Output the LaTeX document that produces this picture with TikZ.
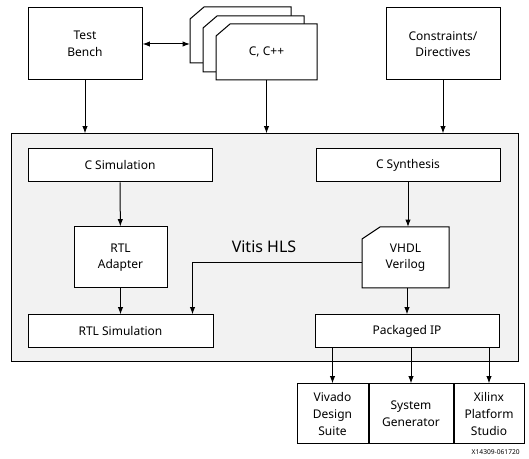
\documentclass[tikz,border=0pt]{standalone}
\usepackage{fontspec}
\setmainfont{Noto Sans}
\usepackage{xcolor}
\usepackage{tikz}
\usetikzlibrary{arrows.meta, positioning, backgrounds}
\definecolor{hlsgray}{RGB}{242,242,242}
\newlength{\unitpx}
\setlength{\unitpx}{0.75pt}
\tikzstyle{block} = [rectangle, draw=black, fill=white, line width=0.75pt, inner sep=0pt, align=center, font=\fontsize{9}{12.5}\selectfont]
\tikzstyle{bar} = [block, minimum width=184\unitpx, minimum height=33\unitpx]
\tikzstyle{src} = [block, minimum width=114\unitpx, minimum height=72\unitpx]
\tikzstyle{page} = [rectangle, inner sep=0pt, outer sep=0pt, align=center, font=\fontsize{9}{12.5}\selectfont, minimum width=101\unitpx, minimum height=56\unitpx]
\tikzstyle{outline} = [draw=black, fill=white, line width=0.75pt]
\tikzstyle{tool} = [block, minimum height=60\unitpx]
\tikzstyle{arrow} = [line width=0.75pt, ->, >={Latex[length=5.5pt,width=4pt]}]
% page outline with cut top-left corner
\newcommand{\dogear}[3]{\draw [outline] ([yshift=-#3]#1.north west) -- ([xshift=#2]#1.north west) -- (#1.north east) -- (#1.south east) -- (#1.south west) -- cycle;}

\begin{document}
\begin{tikzpicture}[x=0.75pt, y=-0.75pt]
\useasboundingbox (0,0) rectangle (529,459);
\node (vitis) [font=\fontsize{12}{14}\selectfont] at (264,247) {Vitis HLS};

\node (tb) [src] at (85,44) {Test\\Bench};
\node (back) [page] at (240.5,35) {};
\node (mid) [page] at (253.5,44) {};
\node (code) [page] at (266.5,52) {C, C++};
\node (cons) [src] at (443,44) {Constraints/\\Directives};

\node (csim) [bar] at (120,165.5) {C Simulation};
\node (csyn) [bar] at (408,165.5) {C Synthesis};
\node (adapt) [block, minimum width=93\unitpx, minimum height=61\unitpx] at (120.5,257.5) {RTL\\Adapter};
\node (vhdl) [page, minimum width=87\unitpx, minimum height=61\unitpx] at (405.5,257.5) {VHDL\\Verilog};
\node (rtlsim) [bar, minimum width=185\unitpx] at (120.5,331.5) {RTL Simulation};
\node (pkg) [bar] at (407,331.5) {Packaged IP};

\node (viv) [tool, minimum width=71\unitpx] at (332.5,414) {Vivado\\Design\\Suite};
\node (sysgen) [tool, minimum width=84\unitpx, right=0pt of viv] {System\\Generator};
\node (xps) [tool, minimum width=70\unitpx, right=0pt of sysgen] {Xilinx\\Platform\\Studio};
\node (fig) [anchor=east, inner sep=0pt, font=\fontsize{5}{6}\selectfont] at (520,452) {X14309-061720};

\begin{scope}[on background layer]
\node (hls) [rectangle, draw=black, fill=hlsgray, line width=0.75pt, minimum width=507\unitpx, minimum height=228\unitpx] at (264.5,248) {};
\dogear{back}{14\unitpx}{12\unitpx}
\dogear{mid}{14\unitpx}{12\unitpx}
\dogear{code}{14\unitpx}{12\unitpx}
\dogear{vhdl}{18\unitpx}{12\unitpx}
\end{scope}

\draw [arrow, <->] (tb.east) -- (tb.east -| back.west);
\draw [arrow] (tb) -- (tb |- hls.north);
\draw [arrow] (code) -- (code |- hls.north);
\draw [arrow] (cons) -- (cons |- hls.north);
\draw [arrow] (csim) -- (adapt);
\draw [arrow] (adapt) -- (rtlsim);
\draw [arrow] (csyn) -- (csyn |- vhdl.north);
\draw [arrow] (vhdl.south -| pkg) -- (pkg);
\draw [arrow] ([yshift=-4pt]vhdl.west) -| ([xshift=54pt]rtlsim.north);
\draw [arrow] (pkg.south -| viv) -- (viv);
\draw [arrow] (pkg.south -| sysgen) -- (sysgen);
\draw [arrow] (pkg.south -| xps) -- (xps);
\end{tikzpicture}
\end{document}
